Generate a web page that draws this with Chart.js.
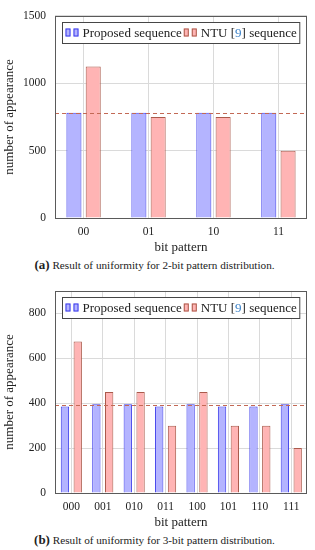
<!DOCTYPE html>
<html>
<head>
<meta charset="utf-8">
<script src="https://cdn.jsdelivr.net/npm/chart.js@4.4.0/dist/chart.umd.min.js"></script>
<style>
body { margin: 0; width: 315px; height: 550px; background: #fff; overflow: hidden; font-family: "Liberation Serif", serif; color: #222; }
.box { position: relative; width: 315px; height: 255px; }
.cap { height: 20px; line-height: 20px; font-size: 11.2px; text-align: center; padding-right: 6px; white-space: nowrap; }
.cap b { font-size: 13px; }
</style>
</head>
<body>
<div class="box"><canvas id="chart2bit"></canvas></div>
<div class="cap"><b>(a)</b> Result of uniformity for 2-bit pattern distribution.</div>
<div class="box"><canvas id="chart3bit"></canvas></div>
<div class="cap"><b>(b)</b> Result of uniformity for 3-bit pattern distribution.</div>
<script>
// 2-bit patterns
const labels2 = ['00', '01', '10', '11'];
const proposed2 = [781, 781, 781, 781];
const ntu2 = [1125, 750, 750, 500];
const expected2 = 781.25;
const yTicks2 = [0, 500, 1000, 1500];

// 3-bit patterns
const labels3 = ['000', '001', '010', '011', '100', '101', '110', '111'];
const proposed3 = [385, 395, 395, 385, 395, 385, 385, 395];
const ntu3 = [675, 450, 450, 300, 450, 300, 300, 200];
const expected3 = 390.625;
const yTicks3 = [0, 200, 400, 600, 800];

const seriesNames = ['Proposed sequence', 'NTU [9] sequence'];

const blueFill = 'rgb(180,180,255)';
const blueLine = 'rgb(60,60,235)';
const redFill = 'rgb(255,180,180)';
const redLine = 'rgb(170,90,75)';
const textColor = '#222';
const citeColor = 'rgb(60,130,200)';
const serif = '"Liberation Serif", serif';

// dashed expected-value line, drawn over the bars
const expectedLine = {
    id: 'expectedLine',
    afterDatasetsDraw(chart, args, opts) {
        const { ctx, chartArea: a } = chart;
        const y = Math.round(chart.scales.y.getPixelForValue(opts.value)) + 0.5;
        ctx.save();
        ctx.strokeStyle = 'rgb(195,105,85)';
        ctx.lineWidth = 1;
        ctx.setLineDash([4, 3]);
        ctx.beginPath();
        ctx.moveTo(a.left, y);
        ctx.lineTo(a.right, y);
        ctx.stroke();
        ctx.restore();
    }
};

// full box around the plot
const frame = {
    id: 'frame',
    afterDraw(chart) {
        const { ctx, chartArea: a } = chart;
        ctx.save();
        ctx.strokeStyle = 'rgb(90,90,90)';
        ctx.lineWidth = 1;
        ctx.strokeRect(Math.round(a.left) + 0.5, Math.round(a.top) + 0.5,
            Math.round(a.right - a.left) - 1, Math.round(a.bottom - a.top));
        ctx.restore();
    }
};

// pgfplots-style boxed legend with the citation number coloured
const boxLegend = {
    id: 'boxLegend',
    afterDraw(chart) {
        const { ctx, chartArea: a } = chart;
        ctx.save();
        ctx.font = '13px ' + serif;
        ctx.textBaseline = 'alphabetic';
        const items = chart.data.datasets.map(ds => {
            const parts = ds.label.split(/(\d+)/).filter(s => s.length)
                .map(s => ({ text: s, color: /^\d+$/.test(s) ? citeColor : textColor }));
            const w = parts.reduce((s, p) => s + ctx.measureText(p.text).width, 0);
            return { ds, parts, w };
        });
        const iconW = 15, pad = 3;
        let total = pad;
        items.forEach(it => { total += iconW + 2 + it.w + 2; });
        total += pad - 2;
        const h = 21;
        const x0 = Math.round((a.left + a.right) / 2 - total / 2) + 0.5;
        const y0 = Math.round(a.top + 6) + 0.5;
        ctx.fillStyle = '#fff';
        ctx.fillRect(x0, y0, total, h);
        ctx.strokeStyle = 'rgb(70,70,70)';
        ctx.lineWidth = 1;
        ctx.strokeRect(x0, y0, total, h);
        let x = x0 + pad;
        const base = y0 + 14;
        items.forEach(it => {
            ctx.fillStyle = it.ds.backgroundColor;
            ctx.strokeStyle = it.ds.borderColor;
            [0, 8].forEach(dx => {
                ctx.fillRect(x + dx, base - 8, 5, 8);
                ctx.strokeRect(x + dx + 0.5, base - 8 + 0.5, 4, 7);
            });
            x += iconW + 2;
            it.parts.forEach(p => {
                ctx.fillStyle = p.color;
                ctx.fillText(p.text, x, base);
                x += ctx.measureText(p.text).width;
            });
            x += 2;
        });
        ctx.restore();
    }
};

function makeChart(id, labels, proposed, ntu, expected, yTicks, yMax, xMin, xMax, catPct, barPct) {
    const ctx = document.getElementById(id).getContext('2d');
    const toPoints = vals => vals.map((v, i) => ({ x: i, y: v }));

    return new Chart(ctx, {
        type: 'bar',
        data: {
            datasets: [{
                label: seriesNames[0],
                data: toPoints(proposed),
                backgroundColor: blueFill,
                borderColor: blueLine,
                borderWidth: 1,
                categoryPercentage: catPct,
                barPercentage: barPct
            }, {
                label: seriesNames[1],
                data: toPoints(ntu),
                backgroundColor: redFill,
                borderColor: redLine,
                borderWidth: 1,
                categoryPercentage: catPct,
                barPercentage: barPct
            }]
        },
        options: {
            responsive: false,
            animation: false,
            layout: { padding: { left: 0, right: 8, top: 8, bottom: 0 } },
            plugins: {
                legend: { display: false },
                tooltip: { enabled: false },
                expectedLine: { value: expected }
            },
            scales: {
                x: {
                    type: 'linear',
                    min: xMin,
                    max: xMax,
                    offset: false,
                    afterBuildTicks: scale => { scale.ticks = labels.map((_, i) => ({ value: i })); },
                    afterFit: scale => { scale.height = 37; },
                    ticks: {
                        callback: v => labels[v],
                        font: { family: serif, size: 11.5 },
                        color: textColor,
                        padding: 7,
                        maxRotation: 0
                    },
                    grid: { color: 'rgb(218,218,218)', drawTicks: false, offset: false },
                    border: { display: false },
                    title: {
                        display: true,
                        text: 'bit pattern',
                        font: { family: serif, size: 13 },
                        color: textColor,
                        padding: { top: 0, bottom: 0 }
                    }
                },
                y: {
                    min: 0,
                    max: yMax,
                    afterBuildTicks: scale => { scale.ticks = yTicks.map(v => ({ value: v })); },
                    afterFit: scale => { scale.width = 55; },
                    ticks: {
                        callback: v => String(v),
                        font: { family: serif, size: 11.5 },
                        color: textColor,
                        padding: 9
                    },
                    grid: { color: 'rgb(218,218,218)', drawTicks: false },
                    border: { display: false },
                    title: {
                        display: true,
                        text: 'number of appearance',
                        font: { family: serif, size: 13 },
                        color: textColor,
                        padding: { top: 2, bottom: 0 }
                    }
                }
            }
        },
        plugins: [expectedLine, frame, boxLegend]
    });
}

function sizeCanvas(id) {
    const c = document.getElementById(id);
    c.width = 315;
    c.height = 255;
    c.style.width = '315px';
    c.style.height = '255px';
}

sizeCanvas('chart2bit');
sizeCanvas('chart3bit');
makeChart('chart2bit', labels2, proposed2, ntu2, expected2, yTicks2, 1500, -0.44, 3.44, 0.594, 0.78);
makeChart('chart3bit', labels3, proposed3, ntu3, expected3, yTicks3, 900, -0.52, 7.5, 0.815, 0.65);
</script>
</body>
</html>
